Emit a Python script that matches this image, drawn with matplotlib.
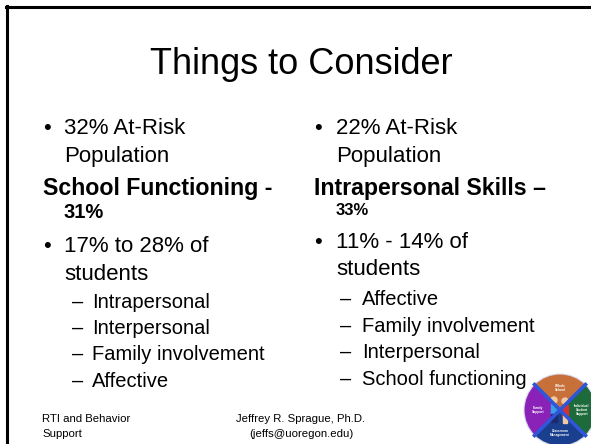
import matplotlib.pyplot as plt
from matplotlib.patches import Wedge, Circle, Rectangle
from matplotlib.lines import Line2D

plt.rcParams['font.family'] = ['Liberation Sans', 'DejaVu Sans']

title = "Things to Consider"

left_top = ["32% At-Risk", "Population"]
left_head, left_pct = "School Functioning -", "31%"
left_bullet = ["17% to 28% of", "students"]
left_subs = ["Intrapersonal", "Interpersonal", "Family involvement", "Affective"]

right_top = ["22% At-Risk", "Population"]
right_head, right_pct = "Intrapersonal Skills \u2013", "33%"
right_bullet = ["11% - 14% of", "students"]
right_subs = ["Affective", "Family involvement", "Interpersonal", "School functioning"]

footer_left = ["RTI and Behavior", "Support"]
footer_mid = ["Jeffrey R. Sprague, Ph.D.", "(jeffs@uoregon.edu)"]

logo_labels = ["Whole\nSchool", "Individual\nStudent\nSupport",
               "Classroom\nManagement", "Family\nSupport"]
logo_colors = ["#c8703a", "#1d6a3a", "#1b3f8f", "#8a22b8"]

W, H = 591, 444
fig = plt.figure(figsize=(W / 100, H / 100), dpi=100)
ax = fig.add_axes([0, 0, 1, 1])
ax.set_xlim(0, W)
ax.set_ylim(H, 0)
ax.axis('off')

# slide frame (left and top edges)
ax.add_line(Line2D([7, 7], [6, H], color='black', lw=2.2))
ax.add_line(Line2D([6, W], [7, 7], color='black', lw=2.2))

ax.text(301, 74, title, fontsize=26, ha='center', va='baseline')

body = 16
head = 16.7
sub = 14.5


def column(xb, xt, xd, xs, top, hd, pct, pct_size, bullet, subs,
           y_top, y_head, y_pct, y_bul, y_subs):
    ax.text(xb, y_top[0], "\u2022", fontsize=body, va='baseline')
    for s, y in zip(top, y_top):
        ax.text(xt, y, s, fontsize=body, va='baseline')
    ax.text(xb, y_head, hd, fontsize=head, fontweight='bold', va='baseline')
    ax.text(xt, y_pct, pct, fontsize=pct_size, fontweight='bold', va='baseline')
    ax.text(xb, y_bul[0], "\u2022", fontsize=body, va='baseline')
    for s, y in zip(bullet, y_bul):
        ax.text(xt, y, s, fontsize=body, va='baseline')
    for s, y in zip(subs, y_subs):
        ax.text(xd, y, "\u2013", fontsize=sub, va='baseline')
        ax.text(xs, y, s, fontsize=sub, va='baseline')


column(43, 64, 72, 92, left_top, left_head, left_pct, 14.5, left_bullet, left_subs,
       [134, 162], 195, 218, [252, 280], [308, 334, 360, 387])
column(314, 336, 340, 362, right_top, right_head, right_pct, 12, right_bullet, right_subs,
       [134, 162], 195, 215, [248, 275], [305, 332, 358, 385])

for s, y in zip(footer_left, [422, 437]):
    ax.text(42, y, s, fontsize=8.2, va='baseline')
for s, y in zip(footer_mid, [422, 437]):
    ax.text(301, y, s, fontsize=8.2, ha='center', va='baseline')

# logo wheel in the corner
cx, cy, r = 560, 410, 36
angles = [(225, 315), (-45, 45), (45, 135), (135, 225)]
label_pos = [(0, -22), (22, 0), (0, 23), (-22, 0)]
for (a0, a1), col, lab, (dx, dy) in zip(angles, logo_colors, logo_labels, label_pos):
    ax.add_patch(Wedge((cx, cy), r, a0, a1, facecolor=col, edgecolor='none'))
    ax.text(cx + dx, cy + dy, lab, fontsize=2.3, color='white', fontweight='bold',
            ha='center', va='center', linespacing=1.0)
d = r * 0.7071
ax.add_line(Line2D([cx - d, cx + d], [cy - d, cy + d], color='#2f55d8', lw=2.6))
ax.add_line(Line2D([cx - d, cx + d], [cy + d, cy - d], color='#2f55d8', lw=2.6))
ax.add_patch(Circle((cx, cy), r, fill=False, edgecolor='#d8d8f0', lw=0.8))
# two small figures in the middle
ax.add_patch(Rectangle((cx - 9, cy - 6), 6, 10, color='#39a0e8'))
ax.add_patch(Circle((cx - 6, cy - 10), 3, color='#f2c9a0'))
ax.add_patch(Rectangle((cx - 9, cy + 4), 6, 8, color='#1a2a6a'))
ax.add_patch(Rectangle((cx + 2, cy - 5), 6, 11, color='#d83030'))
ax.add_patch(Circle((cx + 5, cy - 9), 3, color='#f2c9a0'))
ax.add_patch(Rectangle((cx + 3, cy + 6), 4, 7, color='#f2c9a0'))

fig.savefig('out.png', dpi=100)
